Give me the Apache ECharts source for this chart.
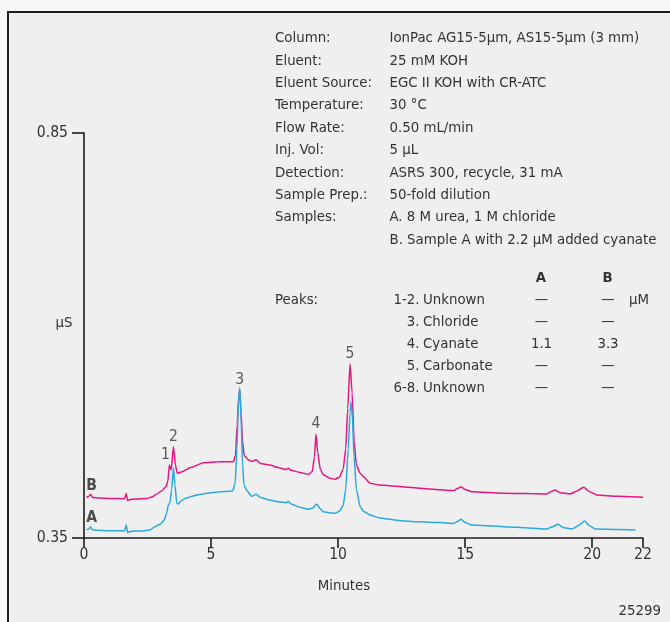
<!DOCTYPE html>
<html><head><meta charset="utf-8">
<script src="https://cdn.jsdelivr.net/npm/echarts@6/dist/echarts.min.js"></script>
<style>html,body{margin:0;padding:0;background:#f6f6f6}#c{width:670px;height:622px}</style>
</head><body><div id="c"></div>
<script>
// ---------------- DATA ----------------
const timeA = [0.1,0.2,0.25,0.35,0.5,1.0,1.6,1.66,1.72,1.8,2.0,2.4,2.6,2.8,3.0,3.15,3.25,3.32,3.38,3.45,3.52,3.58,3.65,3.72,3.8,4.0,4.3,4.6,5.0,5.5,5.85,5.95,6.02,6.08,6.13,6.18,6.24,6.3,6.4,6.6,6.77,6.95,7.3,7.7,7.95,8.04,8.15,8.5,8.83,9.0,9.16,9.3,9.42,9.7,9.88,10.05,10.2,10.3,10.4,10.47,10.51,10.56,10.63,10.72,10.87,11.0,11.26,11.6,12.0,12.6,13.2,14.0,14.54,14.7,14.84,15.0,15.26,16.5,17.5,18.2,18.45,18.65,18.85,19.2,19.5,19.7,19.9,20.12,21.0,21.7];
const uSA   = [0.360,0.361,0.364,0.360,0.3595,0.359,0.359,0.366,0.3565,0.358,0.3585,0.359,0.360,0.364,0.367,0.372,0.380,0.391,0.393,0.410,0.437,0.415,0.393,0.392,0.3955,0.399,0.402,0.404,0.406,0.4075,0.408,0.418,0.460,0.520,0.5356,0.500,0.440,0.415,0.409,0.4015,0.404,0.400,0.397,0.3945,0.3935,0.395,0.392,0.388,0.3854,0.387,0.392,0.386,0.3825,0.381,0.3805,0.383,0.390,0.410,0.460,0.505,0.5183,0.500,0.450,0.410,0.3886,0.383,0.3784,0.375,0.373,0.371,0.370,0.369,0.368,0.3705,0.3731,0.369,0.366,0.364,0.3625,0.361,0.364,0.3669,0.363,0.361,0.366,0.371,0.365,0.361,0.3605,0.360];
const timeB = [0.1,0.2,0.25,0.35,0.6,1.0,1.6,1.66,1.72,1.8,2.0,2.47,2.7,2.86,3.05,3.23,3.3,3.36,3.43,3.52,3.6,3.67,3.75,3.85,4.2,4.7,5.3,5.88,5.96,6.03,6.09,6.13,6.18,6.24,6.3,6.45,6.6,6.77,6.95,7.3,7.7,7.95,8.04,8.15,8.5,8.83,8.98,9.07,9.13,9.2,9.3,9.42,9.7,9.88,10.05,10.2,10.3,10.38,10.47,10.55,10.63,10.72,10.87,11.0,11.26,11.6,12.0,12.6,13.2,14.0,14.54,14.7,14.84,15.0,15.26,16.5,17.5,18.2,18.38,18.54,18.75,19.13,19.4,19.66,19.9,20.18,21.0,22.0];
const uSB   = [0.400,0.4015,0.404,0.400,0.3995,0.3988,0.3985,0.405,0.396,0.3975,0.398,0.3988,0.401,0.4043,0.408,0.4133,0.420,0.4401,0.434,0.4627,0.440,0.4299,0.4305,0.4319,0.437,0.443,0.444,0.4442,0.452,0.490,0.525,0.533,0.505,0.470,0.452,0.447,0.4445,0.4465,0.442,0.440,0.4365,0.4345,0.436,0.4335,0.431,0.4285,0.432,0.450,0.4784,0.455,0.435,0.428,0.4235,0.4225,0.425,0.435,0.460,0.510,0.5648,0.530,0.470,0.440,0.4299,0.4255,0.4175,0.4155,0.4145,0.413,0.4114,0.4095,0.4085,0.411,0.4133,0.410,0.4072,0.4052,0.4048,0.4043,0.407,0.4093,0.406,0.4043,0.408,0.4126,0.407,0.4031,0.4015,0.4002];
const xTicks = [0,5,10,15,20,22];
const yTicks = [0.35,0.85];
const peakNums  = ['1','2','3','4','5'];
const peakTimes = [3.36,3.52,6.13,9.13,10.47];
const infoKeys = ['Column:','Eluent:','Eluent Source:','Temperature:','Flow Rate:','Inj. Vol:','Detection:','Sample Prep.:','Samples:',''];
const infoVals = ['IonPac AG15-5µm, AS15-5µm (3 mm)','25 mM KOH','EGC II KOH with CR-ATC','30 °C','0.50 mL/min','5 µL','ASRS 300, recycle, 31 mA','50-fold dilution','A. 8 M urea, 1 M chloride','B. Sample A with 2.2 µM added cyanate'];
const tblNums  = ['1-2.','3.','4.','5.','6-8.'];
const tblNames = ['Unknown','Chloride','Cyanate','Carbonate','Unknown'];
const tblA = ['—','—','1.1','—','—'];
const tblB = ['—','—','3.3','—','—'];

// ---------------- FONT ----------------
function pickFont(){
  const c=document.createElement('canvas').getContext('2d');
  const s='Eluent Source: 0123 mM';
  c.font='40px monospace'; const w0=c.measureText(s).width;
  for(const f of ['Liberation Sans Narrow','Arial Narrow','DejaVu Sans Condensed','Roboto Condensed']){
    c.font='40px "'+f+'", monospace';
    if(Math.abs(c.measureText(s).width-w0)>0.5) return f;
  }
  return 'Liberation Sans';
}
const FF = pickFont();
const FAM = '"'+FF+'", "Liberation Sans", Arial, sans-serif';
const S = (function(){const c=document.createElement('canvas').getContext('2d');c.font='100px '+FAM;const w=c.measureText('IonPac AG15-5µm, AS15-5µm (3 mm)').width;return Math.min(18,250/w*100);})();
const TXT='#333333', AX='#1c1c1c', PINK='#e6157f', BLUE='#29a9e0';

function txt(x,y,t,opts){opts=opts||{};return {type:'text',x:x,y:y,z:50,style:{text:t,fill:TXT,font:(opts.bold?'bold ':'')+(opts.size||S).toFixed(2)+'px '+FAM,align:opts.align||'left',verticalAlign:'middle'}};}

const graphics=[{type:'rect',z:-10,shape:{x:8,y:12,width:700,height:700},style:{fill:'#efefef',stroke:'#1c1c1c',lineWidth:2}}];
infoKeys.forEach((k,i)=>{const y=38.3+i*22.4; if(k) graphics.push(txt(275,y,k)); graphics.push(txt(389.5,y,infoVals[i]));});
graphics.push(txt(541,278.3,'A',{bold:true,align:'center'}));
graphics.push(txt(607.5,278.3,'B',{bold:true,align:'center'}));
graphics.push(txt(275,300,'Peaks:'));
tblNums.forEach((n,i)=>{const y=300+i*22.1;
  graphics.push(txt(419.5,y,n,{align:'right'}));
  graphics.push(txt(423,y,tblNames[i]));
  graphics.push(txt(541.5,y,tblA[i],{align:'center'}));
  graphics.push(txt(608,y,tblB[i],{align:'center'}));
});
graphics.push(txt(629,300,'µM'));
graphics.push(txt(64,323,'µS',{align:'center'}));
graphics.push(txt(344,586,'Minutes',{align:'center'}));
graphics.push(txt(661,611,'25299',{align:'right'}));

const pairsA = timeA.map((t,i)=>[t,uSA[i]]);
const pairsB = timeB.map((t,i)=>[t,uSB[i]]);
const peakPts = peakNums.map((n,i)=>{const j=timeB.indexOf(peakTimes[i]);return {value:[peakTimes[i],uSB[j]],label:{offset:[i===0?-4:0,0]},name:n};});
const tagPts = [{value:[0.3,uSB[timeB.indexOf(0.35)]],name:'B'},{value:[0.3,uSA[timeA.indexOf(0.35)]],name:'A'}];

const chart = echarts.init(document.getElementById('c'),null,{renderer:'canvas',width:670,height:622});
chart.setOption({
  backgroundColor:'#f6f6f6',
  animation:false,
  grid:{left:84,top:133,width:559,height:405},
  xAxis:{type:'value',min:0,max:22,
    axisLine:{lineStyle:{color:AX,width:1.6}},
    axisTick:{show:true,length:10,customValues:xTicks,lineStyle:{color:AX,width:1.6}},
    axisLabel:{customValues:xTicks,margin:9,color:TXT,fontSize:S*1.05,fontFamily:FAM},
    splitLine:{show:false}},
  yAxis:{type:'value',min:0.35,max:0.85,
    axisLine:{show:true,lineStyle:{color:AX,width:1.6}},
    axisTick:{show:true,length:12,customValues:yTicks,lineStyle:{color:AX,width:1.6}},
    axisLabel:{customValues:yTicks,margin:16,color:TXT,fontSize:S*1.05,fontFamily:FAM,formatter:v=>v.toFixed(2)},
    splitLine:{show:false}},
  series:[
    {type:'line',data:pairsB,showSymbol:false,smooth:0.2,smoothMonotone:'x',lineStyle:{color:PINK,width:1.5},itemStyle:{color:PINK},z:3},
    {type:'line',data:pairsA,showSymbol:false,smooth:0.2,smoothMonotone:'x',lineStyle:{color:BLUE,width:1.5},itemStyle:{color:BLUE},z:4},
    {type:'scatter',data:peakPts,symbolSize:0,silent:true,z:5,
      label:{show:true,position:'top',distance:2,formatter:p=>p.name,color:TXT,fontSize:S*1.05,fontFamily:FAM}},
    {type:'scatter',data:tagPts,symbolSize:0,silent:true,z:5,
      label:{show:true,position:'top',distance:4,formatter:p=>p.name,color:'#222',fontSize:S*1.05,fontWeight:'bold',fontFamily:FAM}}
  ],
  graphic:graphics
});
</script></body></html>
